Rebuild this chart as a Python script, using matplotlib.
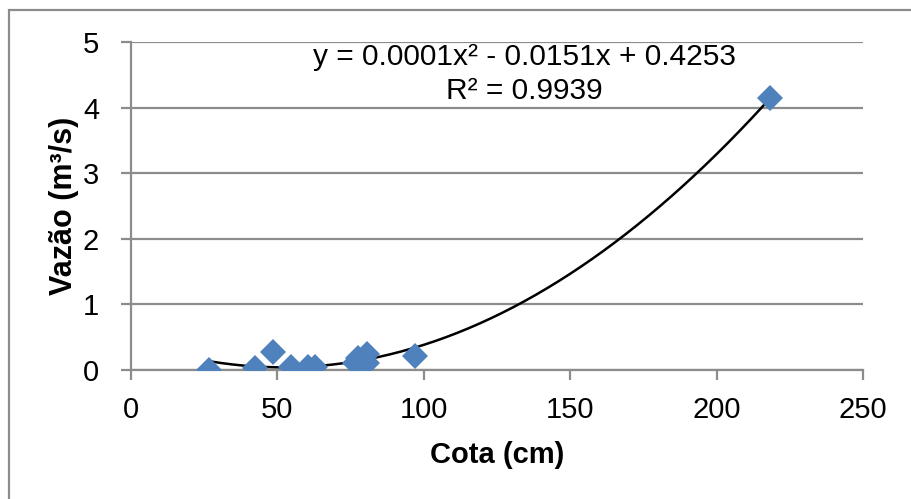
import matplotlib.pyplot as plt
import numpy as np
from matplotlib.patches import Rectangle

plt.rcParams['font.family'] = ['Liberation Sans', 'DejaVu Sans']

cota = [26.7, 42.3, 48.6, 54.6, 60.6, 62.8, 76.5, 77.6, 80.5, 80.5, 97.0, 218.2]
vazao = [0.0, 0.035, 0.27, 0.05, 0.05, 0.05, 0.11, 0.18, 0.25, 0.10, 0.21, 4.15]
x_ticks = [0, 50, 100, 150, 200, 250]
y_ticks = [0, 1, 2, 3, 4, 5]
equation = 'y = 0.0001x² - 0.0151x + 0.4253'
r2_text = 'R² = 0.9939'

grid_col = '#8c8c8c'

fig = plt.figure(figsize=(9.11, 4.99), dpi=100)
ax = fig.add_axes([131 / 911, 1 - 370 / 499, (863 - 131) / 911, (370 - 42) / 499])

# outer chart border
fig.patches.append(Rectangle((9 / 911, -0.05), 1.0, 1 - 10 / 499 + 0.05,
                             transform=fig.transFigure, fill=False,
                             edgecolor=grid_col, linewidth=1.6))

# trendline (2nd order polynomial)
coef = np.polyfit(cota, vazao, 2)
xs = np.linspace(min(cota), max(cota), 200)
ax.plot(xs, np.polyval(coef, xs), color='black', linewidth=1.8, zorder=3)

ax.plot(cota, vazao, linestyle='none', marker='D', markersize=13,
        color='#4f81bd', markeredgewidth=0, zorder=4)

ax.set_xlim(0, 250)
ax.set_ylim(0, 5)
ax.set_xticks(x_ticks)
ax.set_yticks(y_ticks)
ax.yaxis.grid(True, color=grid_col, linewidth=1.6)
ax.set_axisbelow(True)
for s in ['top', 'right']:
    ax.spines[s].set_visible(False)
for s in ['left', 'bottom']:
    ax.spines[s].set_color(grid_col)
    ax.spines[s].set_linewidth(1.6)
ax.tick_params(axis='both', colors=grid_col, length=7, width=1.6,
               labelsize=21, labelcolor='black')
ax.tick_params(axis='y', pad=16)
ax.tick_params(axis='x', pad=12)

ax.set_xlabel('Cota (cm)', fontsize=21, fontweight='bold', labelpad=12)
ax.set_ylabel('Vazão (m³/s)', fontsize=22, fontweight='bold', labelpad=3)

ax.text(0.537, 0.955, equation, transform=ax.transAxes, ha='center', va='center', fontsize=21.5)
ax.text(0.537, 0.85, r2_text, transform=ax.transAxes, ha='center', va='center', fontsize=21.5)

fig.savefig('out.png', dpi=100)
